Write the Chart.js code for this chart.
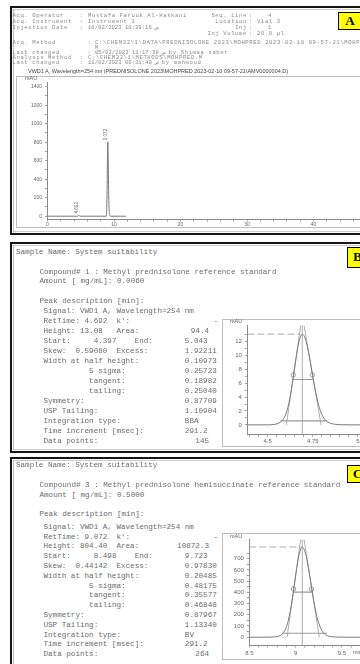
<!DOCTYPE html>
<html><head><meta charset="utf-8">
<script src="https://cdn.jsdelivr.net/npm/chart.js@4.4.1/dist/chart.umd.min.js"></script>
<style>
html,body{margin:0;padding:0;background:#fff}
body{width:360px;height:664px;overflow:hidden;position:relative}
.panel{position:absolute;left:10px;width:400px;border:2.5px solid #151515;box-sizing:border-box;box-shadow:inset 0 0 0 1px #fff,inset 0 0 0 1.6px #9a9a9a}
.frame{position:absolute;border:1px solid #bdbdbd;box-sizing:border-box}
.tx{position:absolute;white-space:pre;line-height:1}
.hd{font-family:"Liberation Mono",monospace;font-size:5.6px;letter-spacing:0.6px;color:#8a8a8a}
.md{font-family:"Liberation Mono",monospace;font-size:7.6px;color:#6c6c6c}
.sm{font-family:"Liberation Sans",Arial,sans-serif;font-size:5.5px;color:#444}
.ax{font-family:"Liberation Sans",Arial,sans-serif;font-size:5.5px;color:#666}
.tag{position:absolute;background:#ffff00;border:1px solid #000;box-sizing:border-box;font:bold 13px "Liberation Serif",serif;color:#000;display:flex;align-items:center;justify-content:center;z-index:5}
canvas{position:absolute}
</style></head><body>
<div class="panel" style="top:6px;height:229px"></div>
<div class="panel" style="top:242px;height:210.5px"></div>
<div class="panel" style="top:457px;height:230px"></div>
<div class="frame" style="left:16px;top:76px;width:380px;height:152px"></div>
<div class="frame" style="left:221.7px;top:319px;width:170px;height:127.7px"></div>
<div class="frame" style="left:221.7px;top:532.7px;width:172px;height:127.3px"></div>
<canvas id="cA" width="380" height="152" style="left:16px;top:76px;width:380px;height:152px"></canvas>
<canvas id="cB" width="170" height="128" style="left:222px;top:319px;width:170px;height:128px"></canvas>
<canvas id="cC" width="171" height="127" style="left:222px;top:533px;width:171px;height:127px"></canvas>
<div class="tag" style="left:338px;top:11.7px;width:24px;height:18.5px">A</div>
<div class="tag" style="left:346.7px;top:246.7px;width:22px;height:21.3px">B</div>
<div class="tag" style="left:346.7px;top:465px;width:22px;height:18.3px">C</div>
<script>
// ---------- DATA ----------
// Panel A: full chromatogram (time, min / signal, mAU)
const timeA   = [0, 4.55, 4.65, 4.692, 4.75, 4.85, 8.85, 8.95, 9.03, 9.072, 9.12, 9.2, 9.3, 9.45, 11.8];
const signalA = [0, 0, 8, 13.08, 6, 0, 0, 230, 700, 804.4, 660, 250, 40, 0, 0];
const peakLabelTimesA  = [9.072, 4.692];
const peakLabelValuesA = [804.4, 13.08];
const peakLabelTextA   = ['9.072', '4.692'];

// Panel B: peak of compound 1
const timeB   = [4.3875, 4.50, 4.532, 4.552, 4.572, 4.592, 4.612, 4.632, 4.652, 4.672, 4.692, 4.712, 4.732, 4.752, 4.772, 4.792, 4.812, 4.832, 4.852, 4.872, 4.90, 4.95, 5.1625];
const signalB = [0, 0, 0.05, 0.15, 0.42, 1.05, 2.5, 5.16, 8.65, 11.8, 13.08, 12.15, 9.73, 6.72, 4.0, 2.06, 0.95, 0.42, 0.2, 0.09, 0.03, 0, 0];
const rtB = 4.692, heightB = 13.08, dashEndB = 4.68;
const halfTimesB = [4.640, 4.753], halfLevelB = 6.54;
const inflTimesB = [4.642, 4.747], inflLevelB = 7.2;
const tangentFeetB = [4.604, 4.796], tangentTopB = 15.86;
const sigma5TimesB = [4.572, 4.830], sigma5LevelB = 0.58;

// Panel C: peak of compound 3
const timeC   = [8.5, 8.70, 8.752, 8.792, 8.832, 8.872, 8.912, 8.952, 8.992, 9.032, 9.072, 9.112, 9.152, 9.192, 9.232, 9.272, 9.312, 9.352, 9.392, 9.432, 9.48, 9.55, 10.0];
const signalC = [0, 0, 1.5, 4, 14, 43, 120, 276, 500, 714, 804.4, 732, 551, 343, 177, 78, 30, 11, 4, 1.5, 0.4, 0, 0];
const rtC = 9.072, heightC = 804.4, dashEndC = 9.06;
const halfTimesC = [8.976, 9.180], halfLevelC = 402;
const inflTimesC = [8.978, 9.172], inflLevelC = 430;
const tangentFeetC = [8.908, 9.256], tangentTopC = 976;
const sigma5TimesC = [8.855, 9.337], sigma5LevelC = 35.4;

// ---------- TEXT ----------
function put(x, y, s, cls, right){
  const d = document.createElement('div');
  d.className = 'tx ' + cls; d.textContent = s;
  document.body.appendChild(d);
  const r = d.getBoundingClientRect();
  d.style.top = (y - r.height/2) + 'px';
  d.style.left = (right ? x - r.width : x) + 'px';
}
// header of A
[[16,'Acq. Operator',':','Mustafa Farouk Al-Hakkani',79.5,88],
 [21.7,'Acq. Instrument',':','Instrument 1',79.5,88],
 [27.3,'Injection Date',':','10/02/2023 10:39:16 ص',79.5,88],
 [42.3,'Acq. Method',':','C:\\CHEM32\\1\\DATA\\PREDNISOLONE 2023\\MOHPRED 2023-02-10 09-57-21\\MOHPRED',87.5,95],
 [52.3,'Last changed',':','05/02/2023 11:17:38 ص by Shimaa saber',87.5,95],
 [57.3,'Analysis Method',':','C:\\CHEM32\\1\\METHODS\\MOHPRED.M',79.5,88],
 [62.7,'Last changed',':','11/02/2023 09:31:40 ص by mahmoud',79.5,88]
].forEach(r => { put(12.5, r[0], r[1], 'hd'); put(r[4], r[0], r[2], 'hd'); put(r[5], r[0], r[3], 'hd'); });
put(95, 47.3, 'M', 'hd');
[[16,'Seq. Line','4',268],[21.7,'Location','Vial 3',257],[27.3,'Inj','1',268],[33.3,'Inj Volume','20.0 µl',257]]
 .forEach(r => { put(247, r[0], r[1], 'hd', true); put(249, r[0], ':', 'hd'); put(r[3], r[0], r[2], 'hd'); });
put(28, 71.7, 'VWD1 A, Wavelength=254 nm (PREDNISOLONE 2023\\MOHPRED 2023-02-10 09-57-21\\AMV0000004.D)', 'sm');
put(25, 79, 'mAU', 'ax');
put(230, 321.7, 'mAU', 'ax');
put(230, 536.7, 'mAU', 'ax');
put(353, 653, 'min', 'ax');

const X0 = 43.5, CW = 4.56;
const col = c => X0 + c * CW;
function report(yHead, ySig, step, compound, amount, v){
  put(16, yHead[0], 'Sample Name: System suitability', 'md');
  put(39.5, yHead[1], compound, 'md');
  put(39.5, yHead[2], 'Amount [ mg/mL]: ' + amount, 'md');
  put(39.5, yHead[3], 'Peak description [min]:', 'md');
  const rows = [
    [[col(0),'Signal: VWD1 A, Wavelength=254 nm']],
    [[col(0),'RetTime:'],[col(9),v.rt],[col(16),"k':"],[218,'-','r']],
    [[col(0),'Height:'],[col(8),v.h],[col(16),'Area:'],[209,v.area,'r']],
    [[col(0),'Start:'],[col(11),v.start],[col(20),'End:'],[col(31),v.end]],
    [[col(0),'Skew:'],[col(7),v.skew],[col(16),'Excess:'],[col(31),v.excess]],
    [[col(0),'Width at half height:'],[col(31),v.w50]],
    [[col(10),'5 sigma:'],[col(31),v.s5]],
    [[col(10),'tangent:'],[col(31),v.tan]],
    [[col(10),'tailing:'],[col(31),v.tail]],
    [[col(0),'Symmetry:'],[col(31),v.sym]],
    [[col(0),'USP Tailing:'],[col(31),v.usp]],
    [[col(0),'Integration type:'],[col(31),v.it]],
    [[col(0),'Time increment [msec]:'],[col(31),'291.2']],
    [[col(0),'Data points:'],[209,v.dp,'r']]
  ];
  rows.forEach((row, i) => row.forEach(s => put(s[0], ySig + i*step, s[1], 'md', s[2] === 'r')));
}
report([252.5,272.5,282,301.5], 312, 10, 'Compound# 1 : Methyl prednisolone reference standard', '0.0060',
  {rt:'4.692',h:'13.08',area:'94.4',start:'4.397',end:'5.043',skew:'0.59080',excess:'1.92211',w50:'0.10973',s5:'0.25723',tan:'0.18982',tail:'0.25040',sym:'0.87709',usp:'1.10904',it:'BBA',dp:'145'});
report([466,486,495.7,515], 527.5, 9.8, 'Compound# 3 : Methyl prednisolone hemisuccinate reference standard', '0.5000',
  {rt:'9.072',h:'804.40',area:'10872.3',start:'8.498',end:'9.723',skew:'0.44142',excess:'0.97830',w50:'0.20485',s5:'0.48175',tan:'0.35577',tail:'0.46848',sym:'0.87967',usp:'1.13340',it:'BV',dp:'264'});

// ---------- CHARTS ----------
Chart.defaults.font.family = '"Liberation Sans", Arial, sans-serif';
const pts = (xs, ys) => xs.map((x, i) => ({x, y: ys[i]}));
const AX = '#8a8a8a', LBL = '#666';

const peakLabelPlugin = {
  id: 'peakLabels',
  afterDatasetsDraw(chart, args, opts){
    if (!opts.times) return;
    const {ctx, scales:{x, y}} = chart;
    ctx.save();
    ctx.fillStyle = '#6a6a6a';
    ctx.font = '4.6px "Liberation Sans"';
    opts.times.forEach((t, i) => {
      const px = x.getPixelForValue(t), py = y.getPixelForValue(opts.values[i]);
      ctx.save(); ctx.translate(px - 2.2, py - 1.5); ctx.rotate(-Math.PI/2);
      ctx.textAlign = 'left'; ctx.textBaseline = 'middle'; ctx.fillText(opts.texts[i], 0, 0);
      ctx.restore();
    });
    ctx.restore();
  }
};

function axis(opt){
  return {
    type: 'linear', min: opt.min, max: opt.max,
    afterFit: s => { if (opt.w !== undefined) s.width = opt.w; if (opt.h !== undefined) s.height = opt.h; },
    afterBuildTicks: s => { s.ticks = s.ticks.filter(t => t.value >= opt.lo - 1e-9 && t.value <= opt.hi + 1e-9); },
    grid: {display: true, drawOnChartArea: false, drawTicks: true, tickLength: 2.5, color: AX, lineWidth: 0.8},
    border: {display: true, color: AX, width: 1},
    ticks: {stepSize: opt.step, includeBounds: false, autoSkip: false, maxRotation: 0, padding: opt.pad,
      color: LBL, font: {size: opt.fs},
      callback: v => { const q = v / opt.every; return (Math.abs(q - Math.round(q)) < 1e-6 && v <= opt.labMax + 1e-9) ? String(+v.toFixed(2)) : ''; }}
  };
}
const baseOpts = (padTop, xAx, yAx) => ({
  responsive: false, animation: false, events: [],
  layout: {padding: {top: padTop, left: 0, right: 0, bottom: 0}},
  plugins: {legend: {display: false}, tooltip: {enabled: false}},
  scales: {x: xAx, y: yAx}
});
const curve = (data) => ({data, borderColor: '#7a7a7a', borderWidth: 1, pointRadius: 0, cubicInterpolationMode: 'monotone', fill: false});
const seg = (data, extra) => Object.assign({data, borderColor: '#9a9a9a', borderWidth: 0.8, pointRadius: 0, fill: false, tension: 0}, extra || {});

// Chart A
new Chart(document.getElementById('cA'), {
  type: 'line',
  data: {datasets: [curve(pts(timeA, signalA))]},
  options: Object.assign(baseOpts(5,
    axis({min: 0, max: 52.4, step: 2, every: 10, labMax: 50, lo: 0, hi: 52, h: 9, pad: 0, fs: 5}),
    axis({min: -30, max: 1450, step: 100, every: 200, labMax: 1400, lo: 0, hi: 1400, w: 31.5, pad: 3, fs: 5})),
    {plugins: {legend: {display: false}, tooltip: {enabled: false},
      peakLabels: {times: peakLabelTimesA, values: peakLabelValuesA, texts: peakLabelTextA}}}),
  plugins: [peakLabelPlugin]
});

function peakChart(id, p, xo, yo, padTop){
  const ds = [
    curve(pts(p.time, p.signal)),
    seg([{x: xo.min, y: p.height}, {x: p.dashEnd, y: p.height}], {borderDash: [7, 3]}),
    seg([{x: p.rt, y: yo.min}, {x: p.rt, y: yo.max}]),
    seg([{x: p.half[0], y: p.halfLevel}, {x: p.half[1], y: p.halfLevel}], {borderWidth: 1.1}),
    seg([{x: p.feet[0], y: 0}, {x: p.rt, y: p.top}]),
    seg([{x: p.feet[1], y: 0}, {x: p.rt, y: p.top}]),
    seg([{x: p.s5[0], y: p.s5Level}, {x: p.s5[1], y: p.s5Level}], {borderWidth: 1.1}),
    {data: pts(p.infl, [p.inflLevel, p.inflLevel]), showLine: false, pointRadius: 2.2, pointBorderWidth: 0.8,
     pointBorderColor: '#8a8a8a', pointBackgroundColor: 'rgba(255,255,255,0)'}
  ];
  new Chart(document.getElementById(id), {type: 'line', data: {datasets: ds},
    options: baseOpts(padTop, axis(xo), axis(yo))});
}
peakChart('cB',
  {time: timeB, signal: signalB, rt: rtB, height: heightB, dashEnd: dashEndB, half: halfTimesB, halfLevel: halfLevelB,
   infl: inflTimesB, inflLevel: inflLevelB, feet: tangentFeetB, top: tangentTopB, s5: sigma5TimesB, s5Level: sigma5LevelB},
  {min: 4.3875, max: 5.1625, step: 0.05, every: 0.25, labMax: 5.1, lo: 4.39, hi: 5.16, h: 12.7, pad: 1, fs: 6},
  {min: -1.359, max: 14.307, step: 1, every: 2, labMax: 12, lo: 0, hi: 13, w: 25.3, pad: 3, fs: 6}, 0);
peakChart('cC',
  {time: timeC, signal: signalC, rt: rtC, height: heightC, dashEnd: dashEndC, half: halfTimesC, halfLevel: halfLevelC,
   infl: inflTimesC, inflLevel: inflLevelC, feet: tangentFeetC, top: tangentTopC, s5: sigma5TimesC, s5Level: sigma5LevelC},
  {min: 8.5, max: 10.0, step: 0.1, every: 0.5, labMax: 9.9, lo: 8.5, hi: 10, h: 15, pad: 2, fs: 6},
  {min: -69.7, max: 870.7, step: 50, every: 100, labMax: 700, lo: 0, hi: 750, w: 27.3, pad: 3, fs: 6}, 0);
</script>
</body></html>
